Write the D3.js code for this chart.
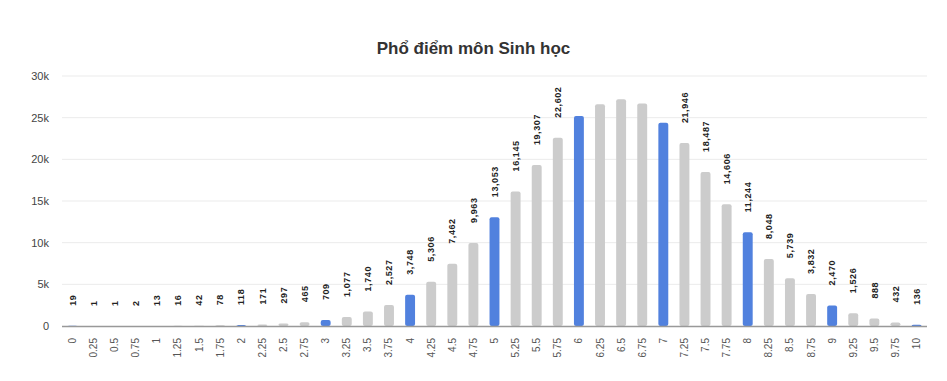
<!DOCTYPE html>
<html><head><meta charset="utf-8">
<script src="https://cdn.jsdelivr.net/npm/d3@7"></script>
<style>
body{margin:0;background:#fff;font-family:"Liberation Sans",Arial,sans-serif;}
</style></head>
<body><svg id="c" width="947" height="381"></svg>
<script>
const title = "Phổ điểm môn Sinh học";
const categories = ["0","0.25","0.5","0.75","1","1.25","1.5","1.75","2","2.25","2.5","2.75","3","3.25","3.5","3.75","4","4.25","4.5","4.75","5","5.25","5.5","5.75","6","6.25","6.5","6.75","7","7.25","7.5","7.75","8","8.25","8.5","8.75","9","9.25","9.5","9.75","10"];
const counts = [19,1,1,2,13,16,42,78,118,171,297,465,709,1077,1740,2527,3748,5306,7462,9963,13053,16145,19307,22602,25200,26600,27200,26700,24400,21946,18487,14606,11244,8048,5739,3832,2470,1526,888,432,136];
const yTicks = [0,5000,10000,15000,20000,25000,30000];
const yTickLabels = ["0","5k","10k","15k","20k","25k","30k"];

const svg = d3.select("#c");
const W = 947, H = 381;
const m = {left:62, right:20, top:76, bottom:55};
const x = d3.scaleBand().domain(categories).range([m.left, W - m.right]).paddingInner(0.53).paddingOuter(0.26);
const y = d3.scaleLinear().domain([0,30000]).range([H - m.bottom, m.top]);

svg.append("text").attr("x", W/2).attr("y", 54).attr("text-anchor","middle")
  .attr("font-size","17px").attr("font-weight","bold").attr("fill","#333").text(title);

// gridlines
svg.append("g").selectAll("line").data(yTicks.slice(1)).join("line")
  .attr("x1", m.left).attr("x2", W - m.right)
  .attr("y1", d=>y(d)).attr("y2", d=>y(d))
  .attr("stroke","#ebebeb").attr("stroke-width",1);

// y labels
svg.append("g").selectAll("text").data(yTicks).join("text")
  .attr("x", 49).attr("y", d=>y(d)).attr("dy","0.35em").attr("text-anchor","end")
  .attr("font-size","11px").attr("fill","#444").text((d,i)=>yTickLabels[i]);

// bars
svg.append("g").selectAll("rect").data(categories).join("rect")
  .attr("x", d=>x(d)).attr("width", x.bandwidth())
  .attr("y", (d,i)=>y(counts[i])).attr("height", (d,i)=>y(0)-y(counts[i]))
  .attr("rx", 2)
  .attr("fill", d=>Number.isInteger(+d) ? "#5181de" : "#cccccc");

// baseline
svg.append("line").attr("x1", m.left).attr("x2", W - m.right)
  .attr("y1", y(0)+0.5).attr("y2", y(0)+0.5).attr("stroke","#999").attr("stroke-width",1.5);

// value labels
const fmt = d3.format(",");
const lab = svg.append("g");
categories.forEach((c,i)=>{
  const cx = x(c) + x.bandwidth()/2;
  const y0 = y(counts[i]) - 20;
  const t = lab.append("text")
    .attr("transform", `translate(${cx},${y0}) rotate(-90)`)
    .attr("dy","0.35em").attr("text-anchor","start")
    .attr("font-size","9px").attr("font-weight","bold").attr("fill","#222")
    .attr("letter-spacing","0.6px")
    .text(fmt(counts[i]));
  const len = t.node().getComputedTextLength();
  if (y0 - len < y(30000) + 5) t.remove();
});

// x labels
svg.append("g").selectAll("text").data(categories).join("text")
  .attr("transform", d=>`translate(${x(d)+x.bandwidth()/2},${y(0)+12}) rotate(-90)`)
  .attr("dy","0.35em").attr("text-anchor","end")
  .attr("font-size","10px").attr("fill","#555").text(d=>d);
</script></body></html>
